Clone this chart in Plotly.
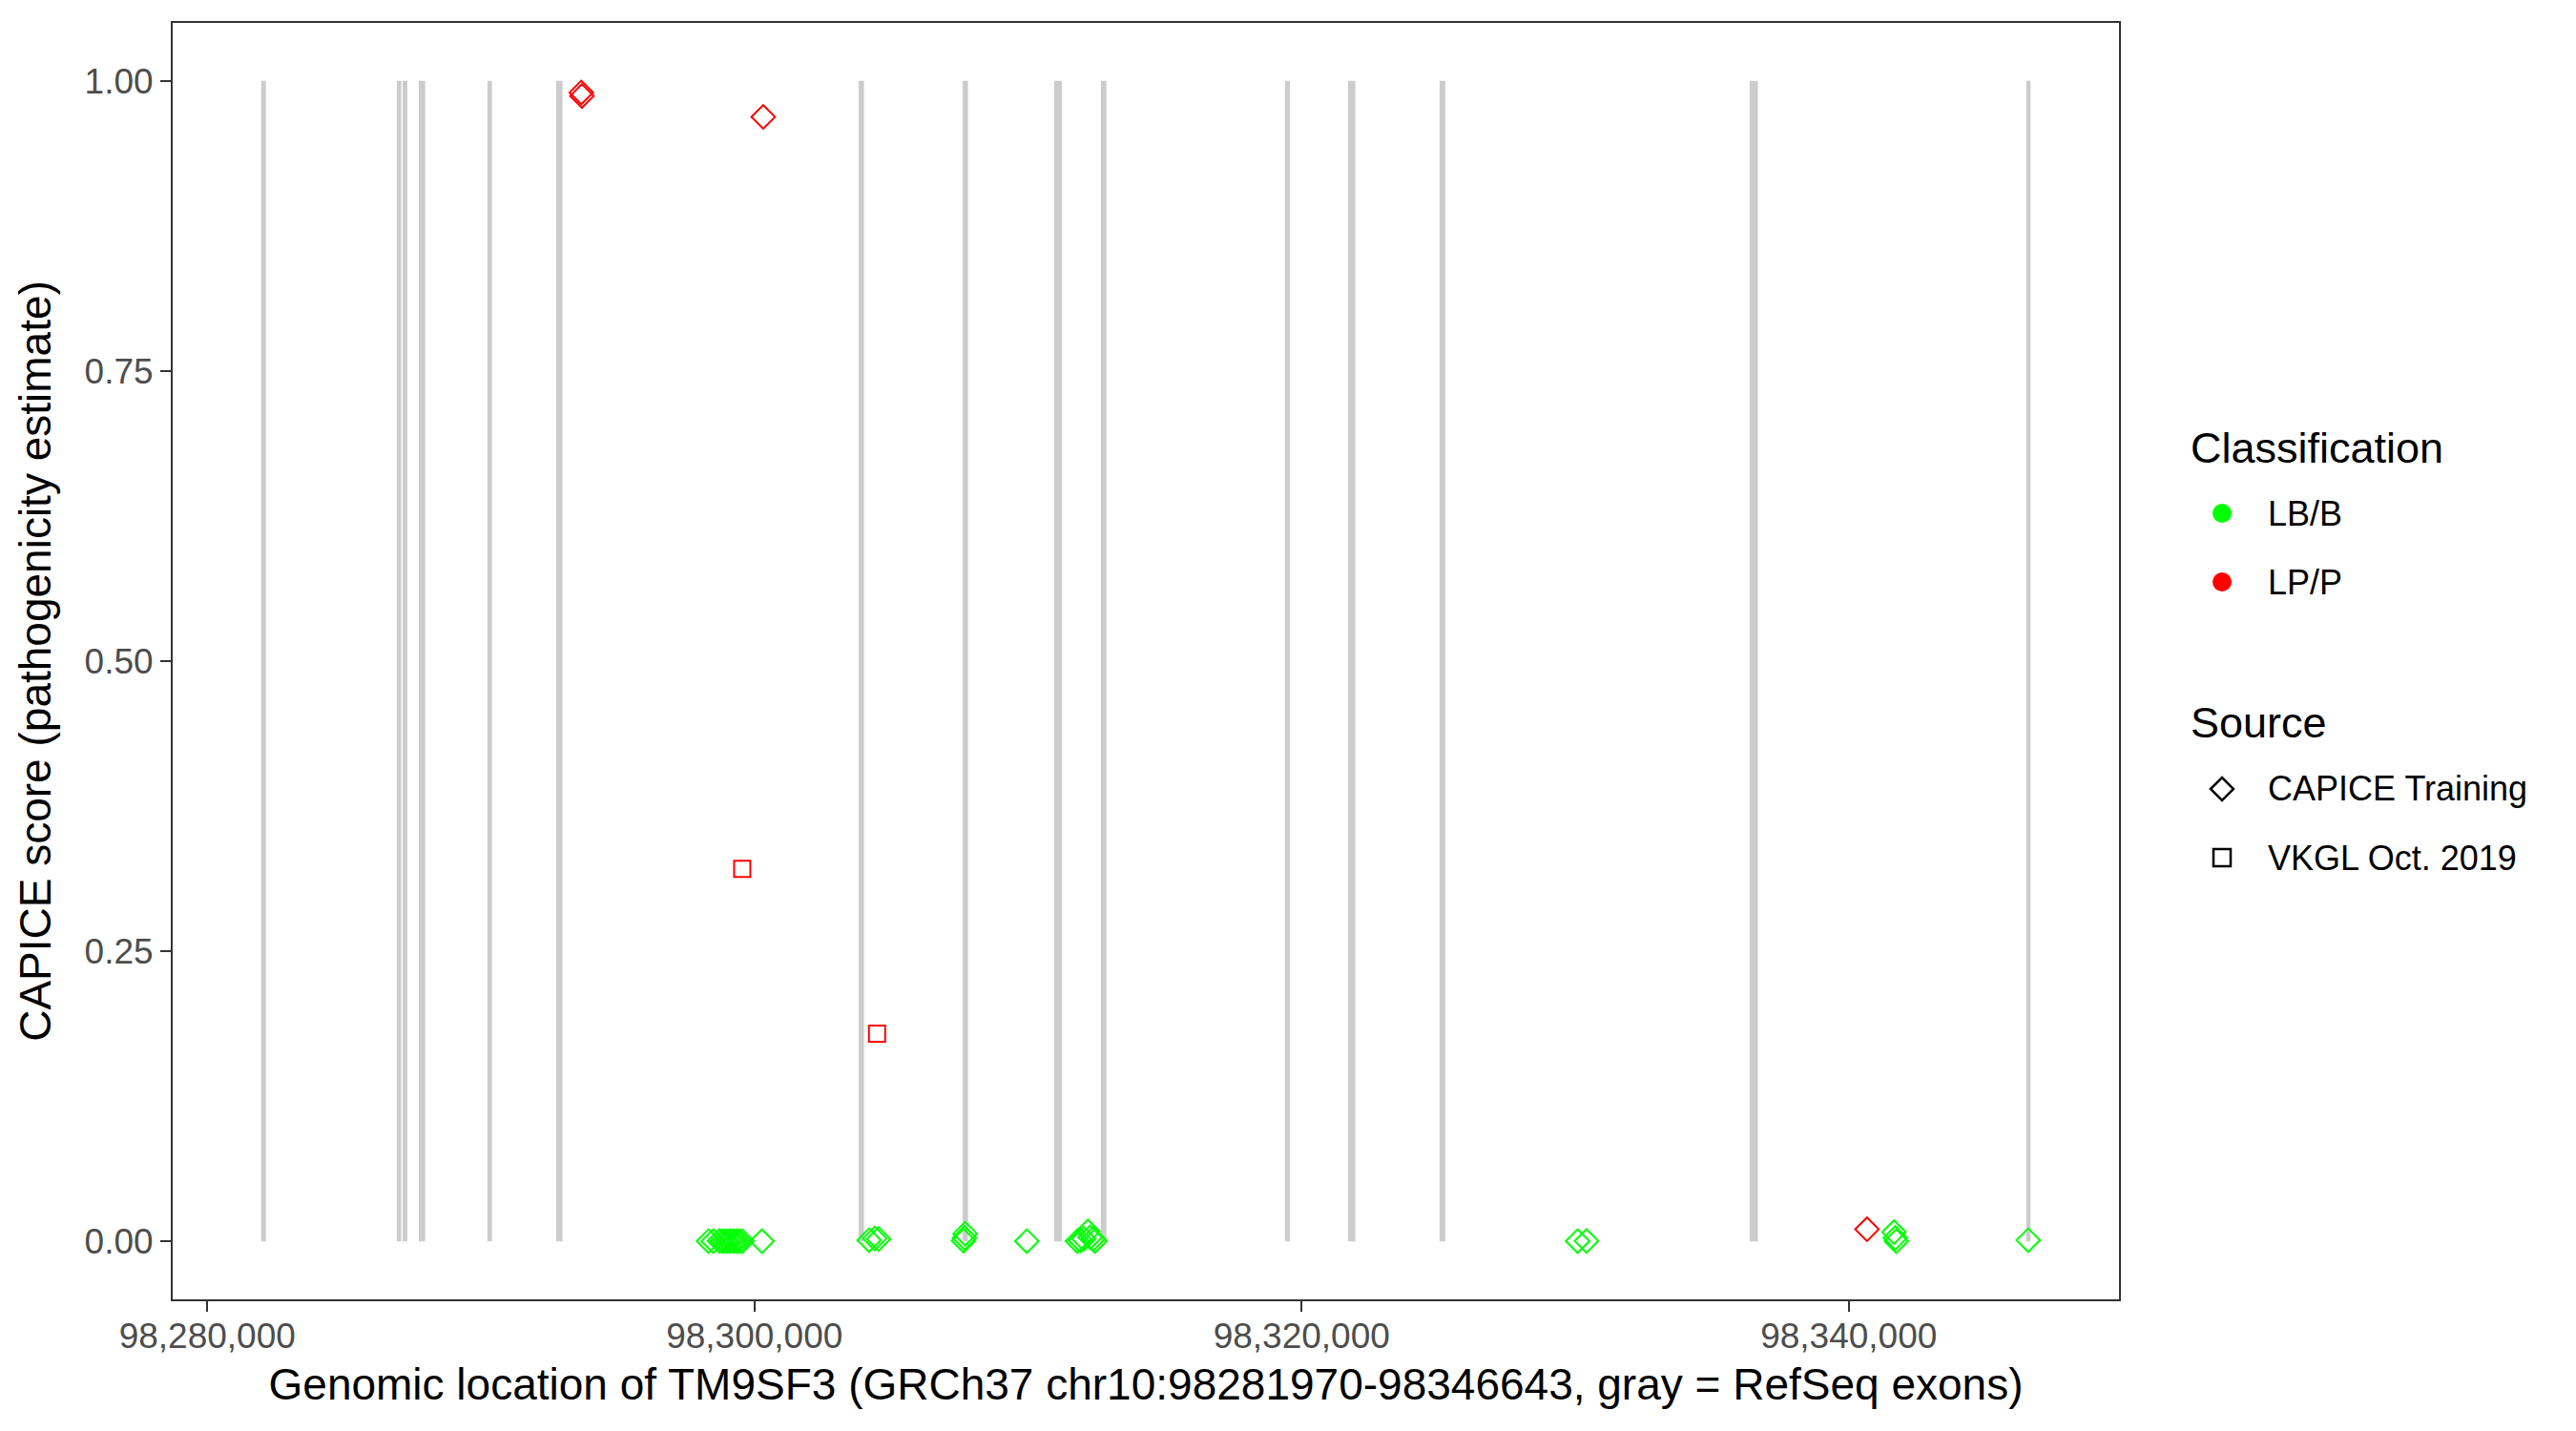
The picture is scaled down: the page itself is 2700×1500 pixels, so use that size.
import plotly.graph_objects as go

# ---- data ----
exon_starts = [98281970, 98286930, 98287140, 98287732, 98290243, 98292754, 98303808,
               98307608, 98310956, 98312664, 98319394, 98321696, 98325043, 98336376, 98346488]
exon_ends = [98282143, 98287094, 98287314, 98287966, 98290407, 98292987, 98304006,
             98307807, 98311235, 98312863, 98319569, 98321964, 98325253, 98336679, 98346643]

lbb_capice_pos = [98298323, 98298497, 98298717, 98298821, 98298926, 98299030, 98299135,
                  98299240, 98299344, 98299449, 98299553, 98300275,
                  98304191, 98304400, 98304540,
                  98307643, 98307678, 98307702,
                  98309955,
                  98311803, 98311921, 98312036, 98312187, 98312270, 98312386, 98312445,
                  98330089, 98330413,
                  98341652, 98341700, 98341735,
                  98346558]
lbb_capice_score = [0.0002, 0.0001, 0.0003, 0.0002, 0.0001, 0.0002, 0.0003,
                    0.0001, 0.0002, 0.0001, 0.0002, 0.0001,
                    0.001, 0.0025, 0.002,
                    0.0006, 0.003, 0.0066,
                    0.0002,
                    0.0002, 0.0008, 0.0022, 0.0085, 0.0035, 0.0022, 0.0002,
                    0.0002, 0.0003,
                    0.0079, 0.003, 0.0002,
                    0.001]

lpp_capice_pos = [98293671, 98293696, 98300321, 98340665]
lpp_capice_score = [0.990, 0.987, 0.969, 0.0104]

lpp_vkgl_pos = [98299553, 98304481]
lpp_vkgl_score = [0.321, 0.179]

class_labels = ["LB/B", "LP/P"]
source_labels = ["CAPICE Training", "VKGL Oct. 2019"]
x_tickvals = [98280000, 98300000, 98320000, 98340000]
y_tickvals = [0.0, 0.25, 0.5, 0.75, 1.0]

GREEN = "#00FF00"
RED = "#FF0000"
FONT = "Liberation Sans, Arial, sans-serif"

W, H = 2700, 1500
ML, MR, MT, MB = 173, 487, 16, 146
PW, PH = W - ML - MR, H - MT - MB


def px_x(fx):
    return (fx - ML) / PW


def px_y(fy):
    return (H - MB - fy) / PH


fig = go.Figure()

# exons
for s, e in zip(exon_starts, exon_ends):
    fig.add_shape(type="rect", xref="x", yref="y", x0=s, x1=e, y0=0, y1=1,
                  fillcolor="#CCCCCC", line=dict(width=0), layer="below")

# data points
fig.add_trace(go.Scatter(x=lbb_capice_pos, y=lbb_capice_score, mode="markers",
                         marker=dict(symbol="diamond-open", size=19, color=GREEN,
                                     line=dict(width=2, color=GREEN)),
                         showlegend=False, hoverinfo="x+y"))
fig.add_trace(go.Scatter(x=lpp_capice_pos, y=lpp_capice_score, mode="markers",
                         marker=dict(symbol="diamond-open", size=19, color=RED,
                                     line=dict(width=2, color=RED)),
                         showlegend=False, hoverinfo="x+y"))
fig.add_trace(go.Scatter(x=lpp_vkgl_pos, y=lpp_vkgl_score, mode="markers",
                         marker=dict(symbol="square-open", size=17, color=RED,
                                     line=dict(width=2, color=RED)),
                         showlegend=False, hoverinfo="x+y"))

# ---- manual legend (figure pixel coords) ----
LEG_MARK_X = 2321
LEG_TEXT_X = 2367
LEG_TITLE_X = 2286
annotations = []
shapes = []

annotations.append(dict(text="Classification", x=px_x(LEG_TITLE_X), y=px_y(461),
                        xref="paper", yref="paper", xanchor="left", yanchor="middle",
                        showarrow=False, font=dict(size=45, color="black", family=FONT)))
for lab, col, fy in zip(class_labels, [GREEN, RED], [530, 602]):
    shapes.append(dict(type="circle", xref="paper", yref="paper",
                       xsizemode="pixel", ysizemode="pixel",
                       xanchor=px_x(LEG_MARK_X), yanchor=px_y(fy),
                       x0=-10, x1=10, y0=-10, y1=10,
                       fillcolor=col, line=dict(width=0)))
    annotations.append(dict(text=lab, x=px_x(LEG_TEXT_X), y=px_y(fy),
                            xref="paper", yref="paper", xanchor="left", yanchor="middle",
                            showarrow=False, font=dict(size=36, color="black", family=FONT)))

annotations.append(dict(text="Source", x=px_x(LEG_TITLE_X), y=px_y(749),
                        xref="paper", yref="paper", xanchor="left", yanchor="middle",
                        showarrow=False, font=dict(size=45, color="black", family=FONT)))
src_paths = ["M -12 0 L 0 12 L 12 0 L 0 -12 Z", "M -9 -9 L 9 -9 L 9 9 L -9 9 Z"]
for lab, pth, fy in zip(source_labels, src_paths, [819, 891]):
    shapes.append(dict(type="path", xref="paper", yref="paper",
                       xsizemode="pixel", ysizemode="pixel",
                       xanchor=px_x(LEG_MARK_X), yanchor=px_y(fy),
                       path=pth, fillcolor="rgba(0,0,0,0)",
                       line=dict(width=2.5, color="black")))
    annotations.append(dict(text=lab, x=px_x(LEG_TEXT_X), y=px_y(fy),
                            xref="paper", yref="paper", xanchor="left", yanchor="middle",
                            showarrow=False, font=dict(size=36, color="black", family=FONT)))

for sh in shapes:
    fig.add_shape(**sh)

fig.update_layout(
    width=W, height=H,
    paper_bgcolor="white", plot_bgcolor="white",
    margin=dict(l=ML, r=MR, t=MT, b=MB, autoexpand=False),
    font=dict(family=FONT, size=37, color="black"),
    showlegend=False,
    annotations=annotations,
    xaxis=dict(range=[98278736, 98349877], tickvals=x_tickvals,
               tickformat=",d", showgrid=False, zeroline=False,
               showline=True, linecolor="#333333", linewidth=2, mirror=True,
               ticks="outside", ticklen=11, tickwidth=2, tickcolor="#333333",
               ticklabelstandoff=-6,
               tickfont=dict(size=37, color="#4D4D4D", family=FONT),
               title=dict(text="Genomic location of TM9SF3 (GRCh37 chr10:98281970-98346643, gray = RefSeq exons)",
                          font=dict(size=46, color="black", family=FONT), standoff=14)),
    yaxis=dict(range=[-0.05, 1.05], tickvals=y_tickvals, tickformat=".2f",
               showgrid=False, zeroline=False,
               showline=True, linecolor="#333333", linewidth=2, mirror=True,
               ticks="outside", ticklen=11, tickwidth=2, tickcolor="#333333",
               tickfont=dict(size=37, color="#4D4D4D", family=FONT),
               title=dict(text="CAPICE score (pathogenicity estimate)",
                          font=dict(size=46, color="black", family=FONT), standoff=20)),
)

fig.write_html("out.html")
